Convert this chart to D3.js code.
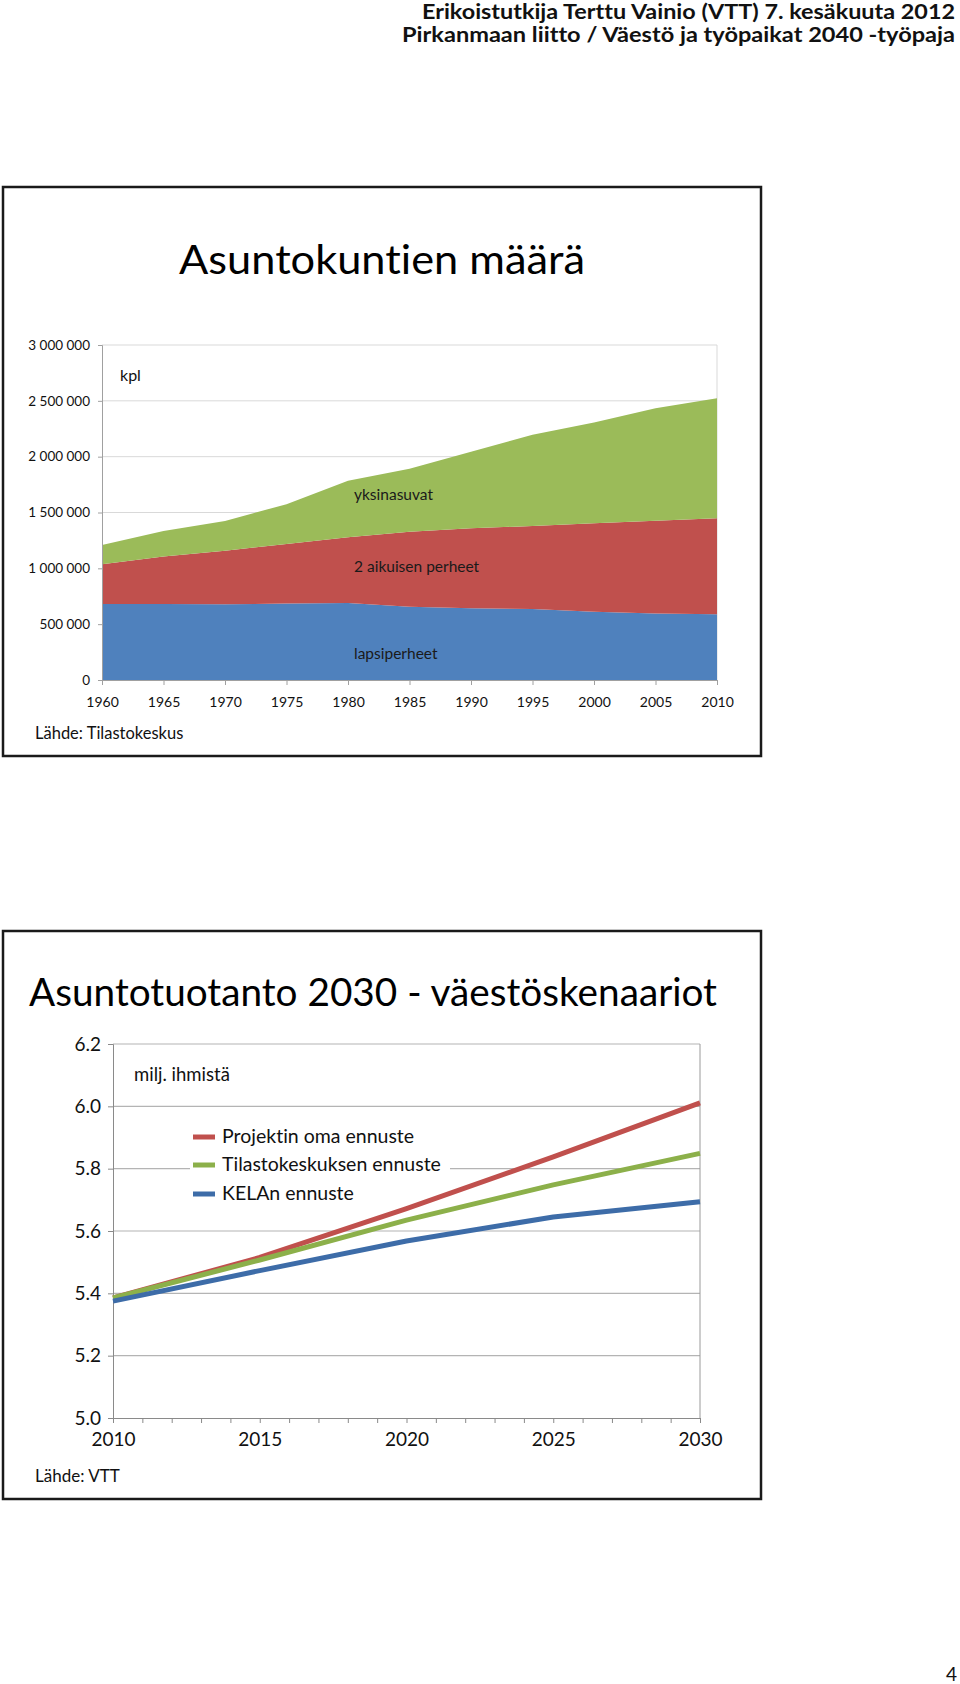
<!DOCTYPE html>
<html><head><meta charset="utf-8">
<script src="https://cdn.jsdelivr.net/npm/d3@7"></script>
<style>
html,body{margin:0;padding:0;background:#fff;}
svg{display:block;font-family:Lato,"Open Sans",sans-serif;}
text{font-variant-ligatures:none;font-feature-settings:"liga" 0,"clig" 0;}
</style></head>
<body>
<svg id="c" width="960" height="1684"></svg>
<script>
// ---------- Data: chart 1 (Asuntokuntien määrä) ----------
const years = [1960,1965,1970,1975,1980,1985,1990,1995,2000,2005,2010];
const lapsiperheet = [680000,680000,678000,684000,690000,657000,642000,636000,612000,595000,588000];
const aikuisenPerheet = [356000,425000,480000,534000,588000,671000,716000,743000,791000,832000,860000];
const yksinasuvat = [173000,230000,266000,357000,506000,563000,685000,817000,903000,1007000,1075000];
const seriesNames1 = ["lapsiperheet","2 aikuisen perheet","yksinasuvat"];
const yTicks1 = [0,500000,1000000,1500000,2000000,2500000,3000000];
const yTickLabels1 = ["0","500 000","1 000 000","1 500 000","2 000 000","2 500 000","3 000 000"];

// ---------- Data: chart 2 (Asuntotuotanto 2030) ----------
const forecastYears = [2010,2015,2020,2025,2030];
const projektinOma = [5.385,5.515,5.672,5.838,6.011];
const tilastokeskus = [5.385,5.507,5.635,5.748,5.849];
const kela = [5.375,5.473,5.568,5.645,5.694];
const seriesNames2 = ["Projektin oma ennuste","Tilastokeskuksen ennuste","KELAn ennuste"];
const yTicks2 = [5.0,5.2,5.4,5.6,5.8,6.0,6.2];
const xTickLabels2 = [2010,2015,2020,2025,2030];

const svg = d3.select("#c");
svg.append("rect").attr("width",960).attr("height",1684).attr("fill","#fff");

// Header
svg.append("text").attr("x",955).attr("y",19).attr("text-anchor","end")
  .attr("font-size",20).attr("font-weight","bold").attr("fill","#111")
  .attr("textLength",533).attr("lengthAdjust","spacingAndGlyphs")
  .text("Erikoistutkija Terttu Vainio (VTT) 7. kesäkuuta 2012");
svg.append("text").attr("x",955).attr("y",42).attr("text-anchor","end")
  .attr("font-size",20).attr("font-weight","bold").attr("fill","#111")
  .attr("textLength",553).attr("lengthAdjust","spacingAndGlyphs")
  .text("Pirkanmaan liitto / Väestö ja työpaikat 2040 -työpaja");
svg.append("text").attr("x",957).attr("y",1681).attr("text-anchor","end")
  .attr("font-size",19).attr("fill","#111").text("4");

// ---------- Chart 1 ----------
const g1 = svg.append("g");
g1.append("rect").attr("x",3).attr("y",187).attr("width",758).attr("height",569)
  .attr("fill","#fff").attr("stroke","#1a1a1a").attr("stroke-width",2.5);
g1.append("text").attr("x",382).attr("y",274).attr("text-anchor","middle")
  .attr("font-size",41).attr("fill","#000")
  .attr("textLength",406).attr("lengthAdjust","spacingAndGlyphs")
  .text("Asuntokuntien määrä");

const x1 = d3.scaleLinear().domain([1960,2010]).range([102,717]);
const y1 = d3.scaleLinear().domain([0,3000000]).range([680,345]);

// gridlines
g1.append("g").selectAll("line").data(yTicks1.slice(1)).join("line")
  .attr("x1",102).attr("x2",717).attr("y1",d=>y1(d)).attr("y2",d=>y1(d))
  .attr("stroke","#d9d9d9").attr("stroke-width",1);
g1.append("line").attr("x1",717).attr("x2",717).attr("y1",345).attr("y2",680)
  .attr("stroke","#d9d9d9");

const rows1 = years.map((yr,i)=>({year:yr, a:lapsiperheet[i], b:aikuisenPerheet[i], c:yksinasuvat[i]}));
const stack = d3.stack().keys(["a","b","c"])(rows1);
const colors1 = ["#4f81bd","#c0504d","#9bbb59"];
const area = d3.area().x(d=>x1(d.data.year)).y0(d=>y1(d[0])).y1(d=>y1(d[1]));
g1.append("g").selectAll("path").data(stack).join("path")
  .attr("d",area).attr("fill",(d,i)=>colors1[i]);

// axes
const yAx1 = d3.axisLeft(y1).tickValues(yTicks1).tickFormat((d,i)=>yTickLabels1[i]).tickSize(4).tickPadding(8);
const ya1 = g1.append("g").attr("transform","translate(102,0)").call(yAx1);
ya1.select(".domain").attr("stroke","#a0a0a0");
ya1.selectAll(".tick line").attr("stroke","#a0a0a0");
ya1.selectAll("text").attr("font-size",13.5).attr("fill","#111").attr("font-family","Lato");
const xAx1 = d3.axisBottom(x1).tickValues(years).tickFormat(d3.format("d")).tickSize(5).tickPadding(12);
const xa1 = g1.append("g").attr("transform","translate(0,680)").call(xAx1);
xa1.select(".domain").attr("stroke","#a0a0a0");
xa1.selectAll(".tick line").attr("stroke","#a0a0a0");
xa1.selectAll("text").attr("font-size",14).attr("fill","#111").attr("font-family","Lato");

g1.append("text").attr("x",120).attr("y",381).attr("font-size",16).attr("fill","#111").text("kpl");
const labPos1 = [[354,659],[354,572],[354,500]];
seriesNames1.forEach((n,i)=>{
  g1.append("text").attr("x",labPos1[i][0]).attr("y",labPos1[i][1])
    .attr("font-size",15.5).attr("fill","#1a1a1a").text(n);
});
g1.append("text").attr("x",35).attr("y",739).attr("font-size",16.5).attr("fill","#111").text("Lähde: Tilastokeskus");

// ---------- Chart 2 ----------
const g2 = svg.append("g");
g2.append("rect").attr("x",3).attr("y",931).attr("width",758).attr("height",568)
  .attr("fill","#fff").attr("stroke","#1a1a1a").attr("stroke-width",2.5);
g2.append("text").attr("x",373).attr("y",1006).attr("text-anchor","middle")
  .attr("font-size",38).attr("fill","#000")
  .attr("textLength",688).attr("lengthAdjust","spacingAndGlyphs")
  .text("Asuntotuotanto 2030 - väestöskenaariot");

const x2 = d3.scaleLinear().domain([2010,2030]).range([113,700]);
const y2 = d3.scaleLinear().domain([5.0,6.2]).range([1418,1044]);

g2.append("g").selectAll("line").data(yTicks2.slice(1)).join("line")
  .attr("x1",113).attr("x2",700).attr("y1",d=>y2(d)).attr("y2",d=>y2(d))
  .attr("stroke","#b4b4b4").attr("stroke-width",1.2);
g2.append("line").attr("x1",700).attr("x2",700).attr("y1",1044).attr("y2",1418)
  .attr("stroke","#9a9a9a");

const yAx2 = d3.axisLeft(y2).tickValues(yTicks2).tickFormat(d3.format(".1f")).tickSize(5).tickPadding(7);
const ya2 = g2.append("g").attr("transform","translate(113,0)").call(yAx2);
ya2.select(".domain").attr("stroke","#8a8a8a");
ya2.selectAll(".tick line").attr("stroke","#8a8a8a");
ya2.selectAll("text").attr("font-size",19).attr("fill","#111").attr("font-family","Lato");
const xAx2 = d3.axisBottom(x2).ticks(20).tickFormat(d=>xTickLabels2.includes(d)?d3.format("d")(d):"").tickSize(5).tickPadding(10);
const xa2 = g2.append("g").attr("transform","translate(0,1418)").call(xAx2);
xa2.select(".domain").attr("stroke","#8a8a8a");
xa2.selectAll(".tick line").attr("stroke","#8a8a8a");
xa2.selectAll("text").attr("font-size",19).attr("fill","#111").attr("font-family","Lato");

// legend background
g2.append("rect").attr("x",190).attr("y",1120).attr("width",260).attr("height",90).attr("fill","#fff");

const colors2 = ["#c0504d","#8cb04a","#3d6ca8"];
const lineGen = d3.line().x((d,i)=>x2(forecastYears[i])).y(d=>y2(d));
[projektinOma,tilastokeskus,kela].forEach((s,i)=>{
  g2.append("path").attr("d",lineGen(s)).attr("fill","none")
    .attr("stroke",colors2[i]).attr("stroke-width",5).attr("stroke-linejoin","round");
});

g2.append("text").attr("x",134).attr("y",1081).attr("font-size",18.5).attr("fill","#111").text("milj. ihmistä");
const legY = [1137,1165,1194];
seriesNames2.forEach((n,i)=>{
  g2.append("line").attr("x1",193).attr("x2",215).attr("y1",legY[i]).attr("y2",legY[i])
    .attr("stroke",colors2[i]).attr("stroke-width",5);
  g2.append("text").attr("x",222).attr("y",legY[i]+6).attr("font-size",19.5).attr("fill","#111").text(n);
});
g2.append("text").attr("x",35).attr("y",1482).attr("font-size",17).attr("fill","#111").text("Lähde: VTT");
</script>
</body></html>
